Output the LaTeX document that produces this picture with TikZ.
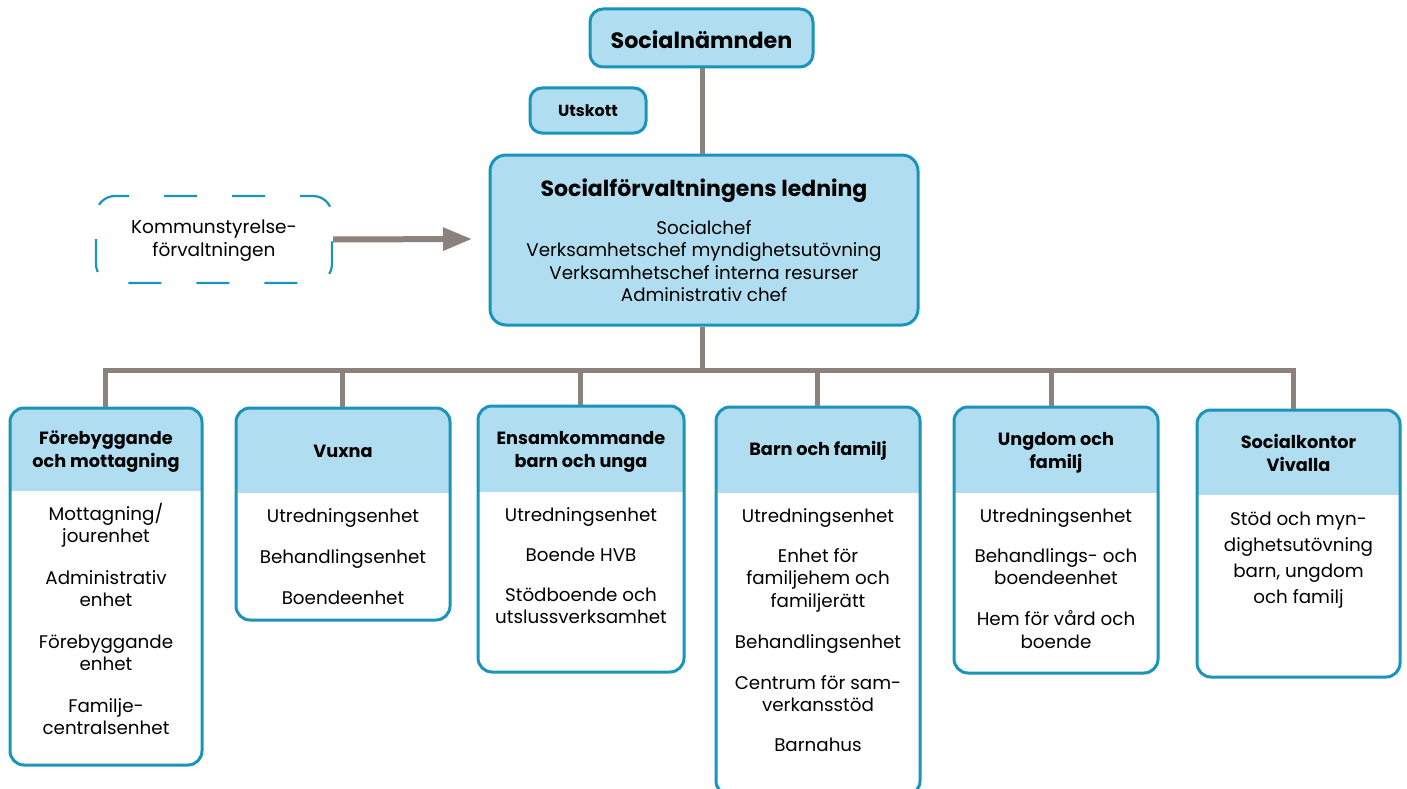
\documentclass[tikz,border=0pt]{standalone}
\usepackage{fontspec}
\setmainfont{Poppins}
\usetikzlibrary{arrows.meta,calc}
\definecolor{bfill}{HTML}{B0DEF0}
\definecolor{bline}{HTML}{1A94BA}
\definecolor{gline}{HTML}{8B817D}
\tikzset{
  bluebox/.style={draw=bline, fill=bfill, line width=3pt, rounded corners=13pt, inner sep=0pt},
  deptbox/.style={draw=bline, fill=white, line width=3pt, rounded corners=14pt, inner sep=0pt,
    path picture={\fill[bfill, sharp corners] (path picture bounding box.north west) rectangle ([yshift=-#1]path picture bounding box.north east);}},
  dashbox/.style={draw=bline, line width=2.2pt, rounded corners=19pt, dash pattern=on 33pt off 35pt, dash phase=20pt, inner sep=0pt},
  conn/.style={draw=gline, line width=5pt},
  arr/.style={draw=gline, line width=6pt, -{Triangle[length=29pt,width=22pt]}},
  hdrtext/.style={font=\bfseries\fontsize{17.7}{23}\selectfont, align=center, inner sep=0pt},
  bodytext/.style={font=\fontsize{18.3}{22.5}\selectfont, align=center, inner sep=0pt, anchor=north},
}
\begin{document}
\begin{tikzpicture}[x=1pt,y=-1pt]
\useasboundingbox (0,0) rectangle (1407,789);
% top
\node[bluebox, minimum width=223pt, minimum height=58pt] (top) at (701.5,38) {};
\node[font=\bfseries\fontsize{22.2}{26}\selectfont] (toptxt) at (701.5,40) {Socialnämnden};
\node[bluebox, rounded corners=12pt, minimum width=116pt, minimum height=45pt] (uts) at (588,110.5) {};
\node[font=\bfseries\fontsize{16}{20}\selectfont] (utstxt) at (588,111) {Utskott};
\node[bluebox, rounded corners=16pt, minimum width=428pt, minimum height=170pt] (lead) at (704,240) {};
\node[font=\bfseries\fontsize{22}{26}\selectfont] (leadtitle) at (704,190.5) {Socialförvaltningens ledning};
\node[bodytext] (leadbody) at (704,220.3) {Socialchef\\Verksamhetschef myndighetsutövning\\Verksamhetschef interna resurser\\Administrativ chef};
% dashed
\node[dashbox, minimum width=236pt, minimum height=87pt] (ks) at (214,239.5) {};
\node[font=\fontsize{18.5}{23}\selectfont, align=center, inner sep=0pt] (kstxt) at (214,240.5) {Kommunstyrelse-\\förvaltningen};
\coordinate (arrend) at (472,239);
\draw[arr] (ks.east) -- (arrend);
% departments
\node[deptbox=83pt, minimum width=192pt, minimum height=357pt] (d1) at (106,586.5) {};
\node[deptbox=85pt, minimum width=214pt, minimum height=212pt] (d2) at (343,514) {};
\node[deptbox=86pt, minimum width=206pt, minimum height=266pt] (d3) at (581,539) {};
\node[deptbox=86pt, minimum width=204pt, minimum height=388pt] (d4) at (818,601) {};
\node[deptbox=86pt, minimum width=204pt, minimum height=266pt] (d5) at (1056,540) {};
\node[deptbox=85pt, minimum width=203pt, minimum height=267pt] (d6) at (1298.5,543.5) {};
% connectors
\coordinate (bus) at (702,370);
\draw[conn] (top.south -| bus) -- (lead.north -| bus);
\draw[conn] (lead.south -| bus) -- (bus);
\draw[conn, line join=miter] ([xshift=-1pt]d1.north) |- ([xshift=-5.5pt]d6.north |- bus) -- ([xshift=-5.5pt]d6.north);
\draw[conn] ([xshift=-1pt]d2.north |- bus) -- ([xshift=-1pt]d2.north);
\draw[conn] ([xshift=-1pt]d3.north |- bus) -- ([xshift=-1pt]d3.north);
\draw[conn] ([xshift=-1pt]d4.north |- bus) -- ([xshift=-1pt]d4.north);
\draw[conn] ([xshift=-5pt]d5.north |- bus) -- ([xshift=-5pt]d5.north);
% headers
\node[hdrtext] (h1) at (106,451.5) {Förebyggande\\och mottagning};
\node[hdrtext] (h2) at (343,451) {Vuxna};
\node[hdrtext] (h3) at (581,451.5) {Ensamkommande\\barn och unga};
\node[hdrtext] (h4) at (818,451) {Barn och familj};
\node[hdrtext] (h5) at (1056,452.5) {Ungdom och\\familj};
\node[hdrtext] (h6) at (1298.5,452.5) {Socialkontor\\Vivalla};
% bodies
\node[bodytext] (b1) at (106,503) {Mottagning/\\jourenhet\\[19pt]Administrativ\\enhet\\[19pt]Förebyggande\\enhet\\[19pt]Familje-\\centralsenhet};
\node[bodytext] (b2) at (343,508.3) {Utredningsenhet\\[18.5pt]Behandlingsenhet\\[18.5pt]Boendeenhet};
\node[bodytext] (b3) at (581,507.3) {Utredningsenhet\\[17.5pt]Boende HVB\\[17.5pt]Stödboende och\\utslussverksamhet};
\node[bodytext] (b4) at (818,508.3) {Utredningsenhet\\[17.5pt]Enhet för\\familjehem och\\familjerätt\\[18.5pt]Behandlingsenhet\\[18.5pt]Centrum för sam-\\verkansstöd\\[17.5pt]Barnahus};
\node[bodytext] (b5) at (1056,508.3) {Utredningsenhet\\[17.5pt]Behandlings- och\\boendeenhet\\[18.5pt]Hem för vård och\\boende};
\node[bodytext, font=\fontsize{18.3}{26}\selectfont] (b6) at (1298.5,511.3) {Stöd och myn-\\dighetsutövning\\barn, ungdom\\och familj};
\end{tikzpicture}
\end{document}
